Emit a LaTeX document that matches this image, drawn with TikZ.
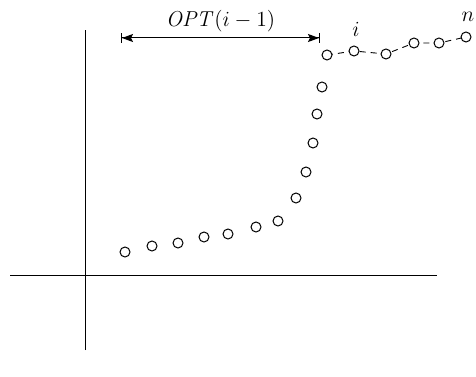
\documentclass[tikz,border=0pt]{standalone}
\usepackage{graphicx}
\usetikzlibrary{arrows.meta,positioning,backgrounds}
\newcommand{\dpmath}[1]{\scalebox{1.5}{$#1$}}
\tikzset{
  dp axis/.style={draw=black, line width=0.9pt},
  dp span/.style={draw=black, line width=1pt, {Bar[width=10pt]Stealth[length=11pt,width=8pt,inset=2pt]}-{Stealth[length=11pt,width=8pt,inset=2pt]Bar[width=10pt]}},
  dp link/.style={draw=black, line width=0.9pt, dash pattern=on 6pt off 5pt},
  dp point/.style={circle, draw=black, fill=white, line width=1pt, minimum size=10pt, inner sep=0pt},
  dp label/.style={font=\fontsize{14.4}{17}\selectfont, inner sep=0pt},
}
\begin{document}
\begin{tikzpicture}[x=1pt,y=-1pt]
\useasboundingbox (0,0) rectangle (476,377);
% axes
\coordinate (ybot) at (85,350); \coordinate (ytop) at (85,30);
\coordinate (xlft) at (10,275); \coordinate (xrgt) at (437,275);
\draw[dp axis] (ybot)--(ytop);
\draw[dp axis] (xlft)--(xrgt);
% points
\foreach \x/\y [count=\k] in {125/252,152/246,178/243,204/237,228/234,256/227,278/221,296/198,306/172,313/143,317/114,322/87,327/55,354/51,386/54,414/43,439/43,466/37}{\node[dp point] (p\k) at (\x,\y) {};}
\begin{pgfonlayer}{background}
\draw[dp link] (p13.center)--(p14.center)--(p15.center)--(p16.center)--(p17.center)--(p18.center);
\end{pgfonlayer}
\node[dp label, above=9pt of p14, xshift=2pt] (ilbl) {\dpmath{i}};
\node[dp label, above=10pt of p18, xshift=2pt] (nlbl) {\dpmath{n}};
% span of OPT(i-1)
\coordinate (sl) at (121,38); \coordinate (sr) at (320,38);
\draw[dp span] (sl)--node[dp label, above=6pt] (optlbl) {\dpmath{\mathit{OPT}(i-1)}} (sr);
\end{tikzpicture}
\end{document}
